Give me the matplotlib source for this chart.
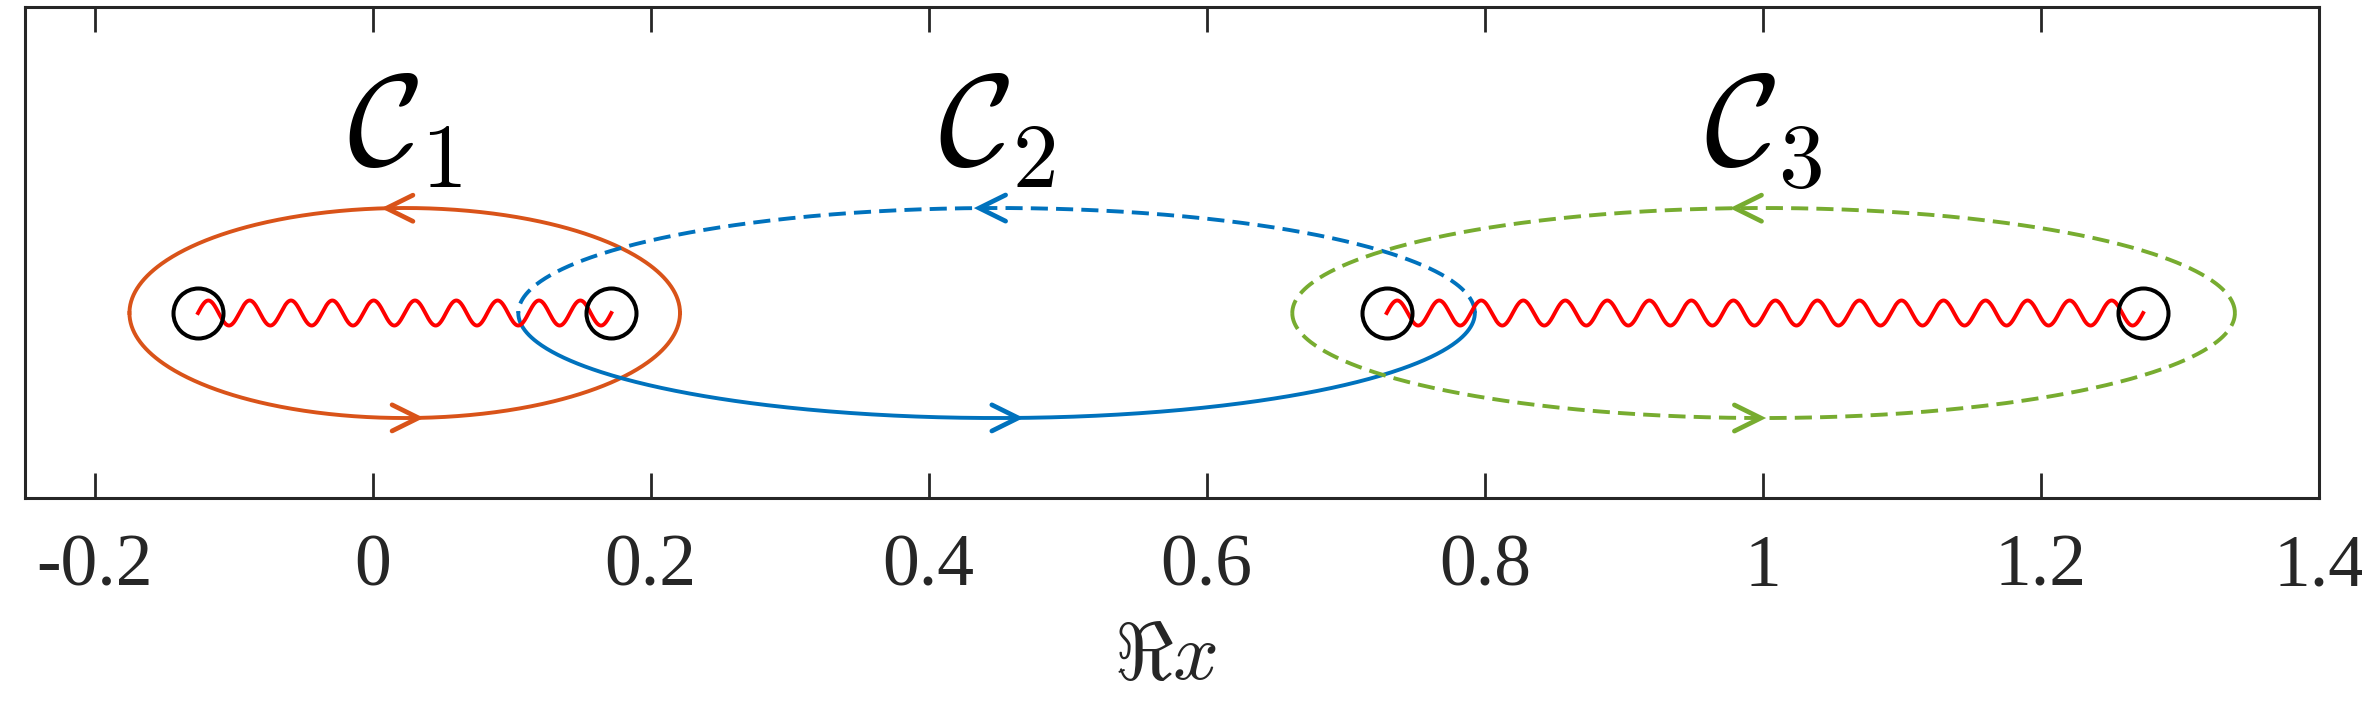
import numpy as np
import matplotlib
matplotlib.use("Agg")
import matplotlib.pyplot as plt

plt.rcParams['mathtext.fontset'] = 'cm'
plt.rcParams['font.family'] = ['Liberation Serif', 'DejaVu Serif']

# ---- data ----
branch_points = [-0.1256, 0.1717, 0.7294, 1.2735]
cuts = [(0, 1), (2, 3)]              # pairs of branch points joined by a cut
cut_periods = [10, 18]
cut_amplitude = 0.009

contour_names = [r'$\mathcal{C}_1$', r'$\mathcal{C}_2$', r'$\mathcal{C}_3$']
contour_centers = [0.0231, 0.4488, 1.0005]
contour_semi_major = [0.198, 0.344, 0.339]
contour_semi_minor = [0.0755, 0.0755, 0.0755]
contour_colors = ['#D95319', '#0072BD', '#77AC30']
contour_top_style = ['solid', 'dashed', 'dashed']
contour_bottom_style = ['solid', 'solid', 'dashed']
arrow_top_x = [0.010, 0.4363, 0.980]      # tips of left-pointing arrows (top)
arrow_bottom_x = [0.033, 0.4644, 0.9985]  # tips of right-pointing arrows (bottom)
label_y = 0.106

xticks = [-0.2, 0, 0.2, 0.4, 0.6, 0.8, 1.0, 1.2, 1.4]
xticklabels = ['-0.2', '0', '0.2', '0.4', '0.6', '0.8', '1', '1.2', '1.4']
xlim = (-0.25, 1.4)
ylim = (-0.133, 0.220)

# ---- figure ----
fig = plt.figure(figsize=(23.62, 7.09), dpi=100)
ax = fig.add_axes([0.0106, 0.2976, 0.9712, 0.6925])

lw = 2.8
dash = (0, (4.4, 2.1))

def styl(s):
    return '-' if s == 'solid' else dash

for name, xc, a, b, col, st, sb, xt, xb in zip(contour_names, contour_centers,
                                               contour_semi_major, contour_semi_minor,
                                               contour_colors, contour_top_style,
                                               contour_bottom_style, arrow_top_x, arrow_bottom_x):
    t_top = np.linspace(0, np.pi, 400)
    t_bot = np.linspace(np.pi, 2 * np.pi, 400)
    ax.plot(xc + a * np.cos(t_top), b * np.sin(t_top), color=col, lw=lw, linestyle=styl(st))
    ax.plot(xc + a * np.cos(t_bot), b * np.sin(t_bot), color=col, lw=lw, linestyle=styl(sb))
    # chevron arrowheads
    dx, dy = 0.0190, 0.0094
    yt = b * np.sqrt(max(0.0, 1 - ((xt - xc) / a) ** 2))
    ax.plot([xt + dx, xt, xt + dx], [yt + dy, yt, yt - dy], color=col, lw=3.4,
            solid_joinstyle='miter', solid_capstyle='round')
    yb = -b * np.sqrt(max(0.0, 1 - ((xb - xc) / a) ** 2))
    ax.plot([xb - dx, xb, xb - dx], [yb + dy, yb, yb - dy], color=col, lw=3.4,
            solid_joinstyle='miter', solid_capstyle='round')
    ax.text(xc, label_y, name, fontsize=94, ha='center', va='baseline', color='black')

# branch cuts
for (i, j), n in zip(cuts, cut_periods):
    x0, x1 = branch_points[i], branch_points[j]
    xs = np.linspace(x0, x1, 2000)
    ax.plot(xs, cut_amplitude * np.sin(2 * np.pi * n * (xs - x0) / (x1 - x0)),
            color='#FF0000', lw=lw)

# branch points
ax.plot(branch_points, np.zeros(len(branch_points)), linestyle='none', marker='o',
        markersize=36, markerfacecolor='none', markeredgecolor='black', markeredgewidth=2.9)

ax.set_xlim(*xlim)
ax.set_ylim(*ylim)
ax.set_xticks(xticks)
ax.set_xticklabels(xticklabels)
ax.set_yticks([])
ax.tick_params(axis='x', direction='in', length=18, width=2.0, color='#262626',
               top=True, labelsize=53, pad=26, labelcolor='#262626')
for s in ax.spines.values():
    s.set_linewidth(2.2)
    s.set_color('#262626')
ax.set_xlabel(r'$\Re x$', fontsize=58, color='#262626', labelpad=8)
ax.xaxis.set_label_coords(0.497, -0.255)

fig.savefig('out.png', dpi=100)
